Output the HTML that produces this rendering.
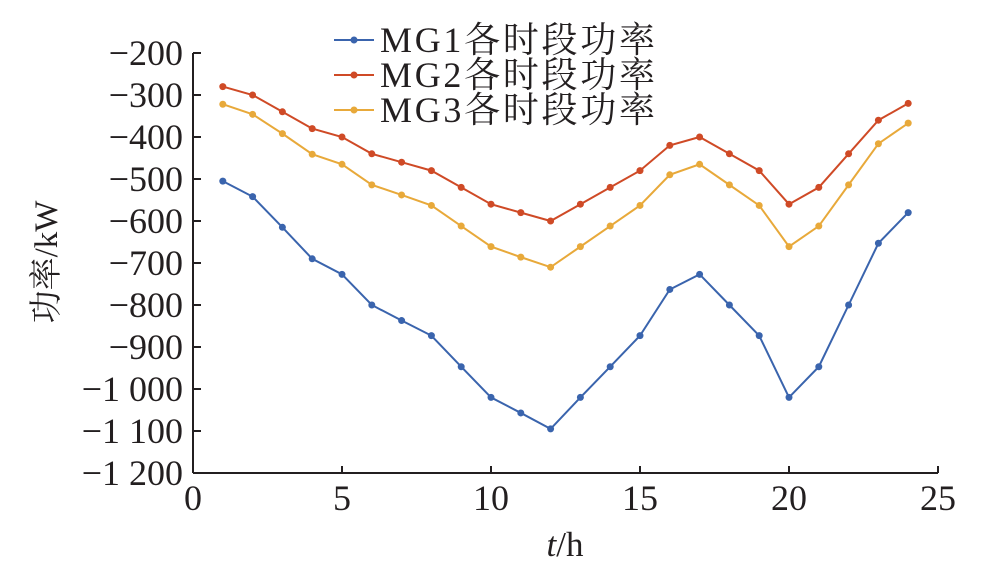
<!DOCTYPE html>
<html><head><meta charset="utf-8"><style>
body{margin:0;background:#fff}
svg{display:block}
text{font-family:"Liberation Serif","Noto Serif CJK SC",serif;fill:#231f20}
</style></head><body>
<svg width="985" height="580">
<g id="axes"></g><g id="series"></g><g id="legend"></g>
</svg>
<script>
const hours=[1,2,3,4,5,6,7,8,9,10,11,12,13,14,15,16,17,18,19,20,21,22,23,24];
const mg1=[-505,-542,-615,-690,-727,-800,-837,-873,-947,-1020,-1057,-1095,-1020,-947,-873,-763,-727,-800,-873,-1020,-947,-800,-653,-580];
const mg2=[-280,-300,-340,-380,-400,-440,-460,-480,-520,-560,-580,-600,-560,-520,-480,-420,-400,-440,-480,-560,-520,-440,-360,-320];
const mg3=[-322,-346,-392,-441,-465,-514,-538,-563,-612,-661,-686,-710,-661,-612,-563,-490,-465,-514,-563,-661,-612,-514,-416,-367];
const xTicks=[0,5,10,15,20,25];
const yTicks=[-200,-300,-400,-500,-600,-700,-800,-900,-1000,-1100,-1200];
const yTickLabels=["\u2212200","\u2212300","\u2212400","\u2212500","\u2212600","\u2212700","\u2212800","\u2212900","\u22121 000","\u22121 100","\u22121 200"];
const seriesNames=["MG1各时段功率","MG2各时段功率","MG3各时段功率"];
const colors=["#3a64ad","#cf4a26","#e8a93a"];
const NS="http://www.w3.org/2000/svg";
const X=v=>193+(v-0)*(938-193)/25;
const Y=v=>53+(-200-v)*(473-53)/1000;
function mk(t,a,p){const e=document.createElementNS(NS,t);for(const k in a)e.setAttribute(k,a[k]);p.appendChild(e);return e;}
const ax=document.getElementById('axes');
const xa=mk('line',{x1:193,y1:473,x2:938,y2:473,stroke:'#231f20','stroke-width':2},ax);


const ya=mk('line',{x1:193,y1:53,x2:193,y2:473,stroke:'#231f20','stroke-width':2},ax);


xTicks.forEach(v=>{
 mk('line',{x1:X(v),y1:473,x2:X(v),y2:466,stroke:'#231f20','stroke-width':2},ax);
 const t=mk('text',{x:X(v),y:510,'text-anchor':'middle','font-size':36},ax);t.textContent=v;
 
 
});
yTicks.forEach((v,i)=>{
 mk('line',{x1:193,y1:Y(v),x2:201,y2:Y(v),stroke:'#231f20','stroke-width':2},ax);
 const t=mk('text',{x:183,y:Y(v)+12,'text-anchor':'end','font-size':36},ax);t.textContent=yTickLabels[i];
 
 
});
const yl=mk('text',{x:0,y:0,transform:'translate(57,262) rotate(-90)','text-anchor':'middle','font-size':33},ax);
yl.textContent='功率/kW';


const xl=mk('text',{x:565,y:556,'text-anchor':'middle','font-size':35},ax);
xl.innerHTML='<tspan font-style="italic">t</tspan>/h';


const sg=document.getElementById('series');
[mg1,mg2,mg3].forEach((d,s)=>{
 const pl=mk('polyline',{points:d.map((v,i)=>X(hours[i])+','+Y(v)).join(' '),fill:'none',stroke:colors[s],'stroke-width':2},sg);
 
 
 d.forEach((v,i)=>{
  const c=mk('circle',{cx:X(hours[i]),cy:Y(v),r:3.5,fill:colors[s]},sg);
  
  
 });
});
const lg=document.getElementById('legend');
seriesNames.forEach((n,i)=>{
 const y=40+i*35;
 const g=mk('g',{},lg);
 
 
 mk('line',{x1:334,y1:y,x2:374,y2:y,stroke:colors[i],'stroke-width':2},g);
 mk('circle',{cx:354,cy:y,r:3.5,fill:colors[i]},g);
 const t=mk('text',{x:380,y:y+12,'font-size':36,textLength:275},g);t.textContent=n;
});
</script>
</body></html>
